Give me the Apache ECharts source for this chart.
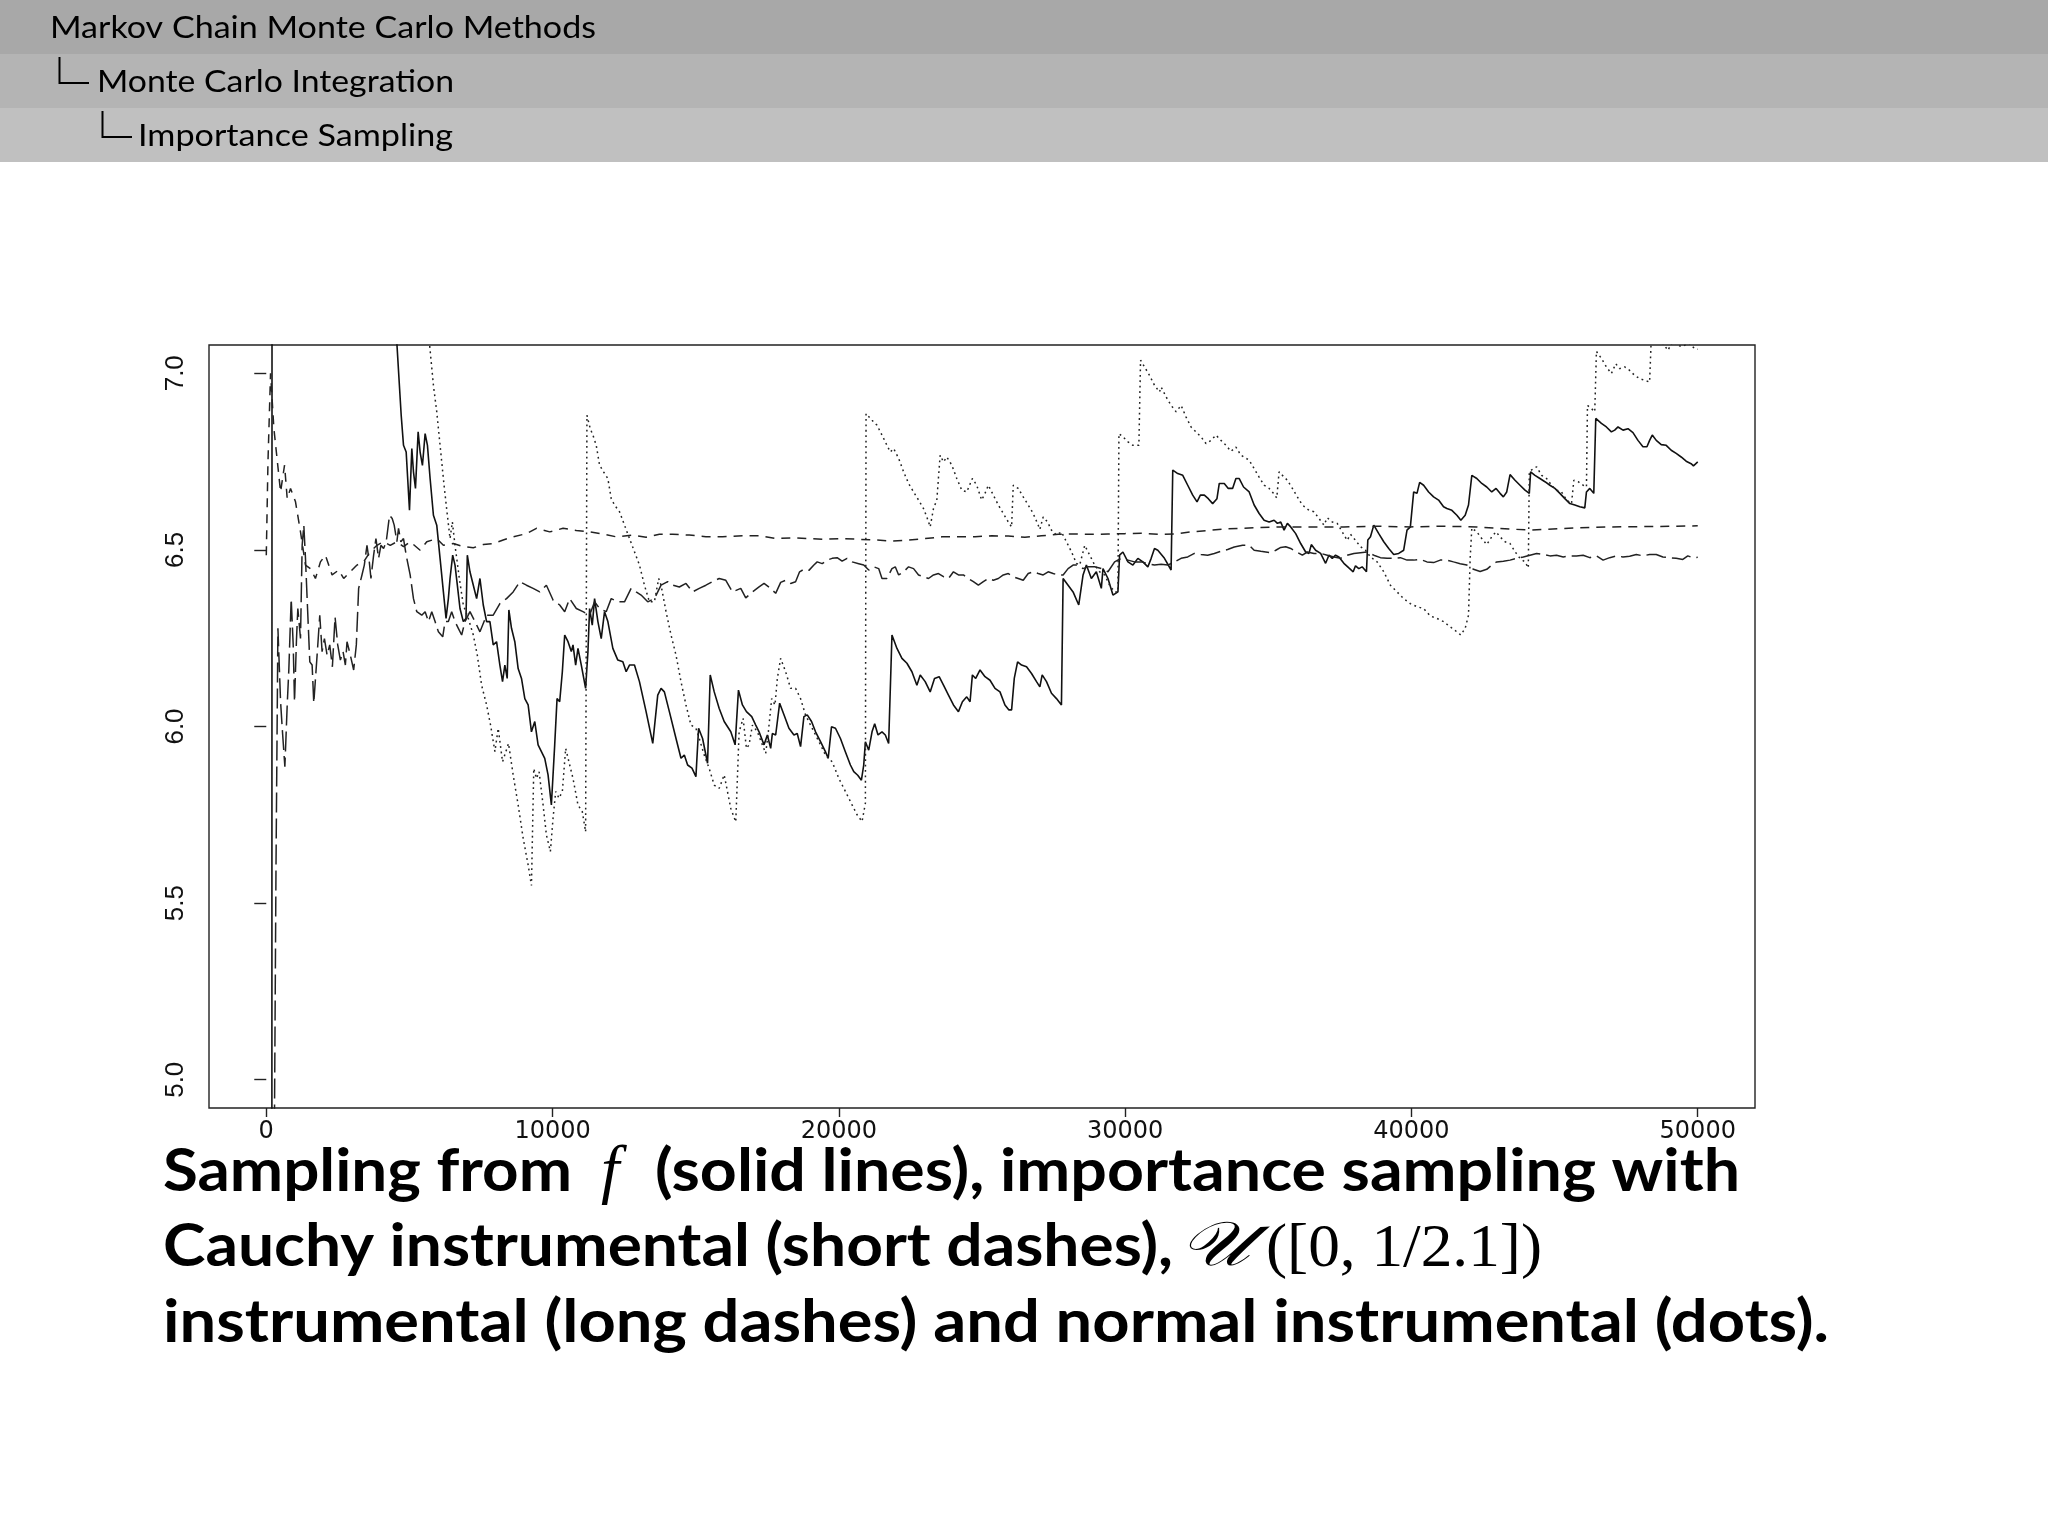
<!DOCTYPE html>
<html><head><meta charset="utf-8">
<script src="https://cdn.jsdelivr.net/npm/echarts@6/dist/echarts.min.js"></script>
<style>html,body{margin:0;padding:0;background:#fff}#c{width:2048px;height:1536px}</style>
</head><body><div id="c"></div>
<script>
// ---------- texts ----------
const headerLines = ['Markov Chain Monte Carlo Methods', 'Monte Carlo Integration', 'Importance Sampling'];
const captionLine1 = ['Sampling from', 'f', '(solid lines), importance sampling with'];
const captionLine2 = ['Cauchy instrumental (short dashes),', '\u{1D4B0}', '([0, 1/2.1])'];
const captionLine3 = ['instrumental (long dashes) and normal instrumental (dots).'];

// ---------- axes ----------
const xTickValues = [0, 10000, 20000, 30000, 40000, 50000];
const xTickLabels = ['0', '10000', '20000', '30000', '40000', '50000'];
const yTickValues = [5.0, 5.5, 6.0, 6.5, 7.0];
const yTickLabels = ['5.0', '5.5', '6.0', '6.5', '7.0'];

// ---------- series (iteration, running estimate) ----------
const solidF = [[1,3.0],[195,4.2],[205,9.2],[1000,8.3],[2000,7.8],[3000,7.5],[4000,7.28],[4450,7.14],
[4562,7.085],[4713,6.881],[4794,6.796],[4887,6.777],[5003,6.612],[5084,6.787],[5142,6.721],[5212,6.674],[5305,6.834],[5374,6.777],[5455,6.739],[5549,6.829],[5630,6.796],[5723,6.702],[5839,6.598],[5955,6.570],[6071,6.476],[6187,6.381],[6280,6.306],[6361,6.362],[6419,6.419],[6512,6.485],[6593,6.457],[6674,6.400],[6767,6.334],[6883,6.297],[6976,6.306],[7023,6.485],[7115,6.438],[7232,6.400],[7348,6.362],[7464,6.419],[7580,6.344],[7696,6.297],[7812,6.297],[7928,6.231],[8044,6.240],[8160,6.174],[8253,6.127],[8334,6.174],[8416,6.136],[8474,6.330],[8566,6.278],[8682,6.240],[8798,6.164],[8915,6.136],[9031,6.079],[9147,6.061],[9263,5.985],[9379,6.014],[9495,5.948],[9611,5.929],[9727,5.910],[9843,5.863],[9959,5.778],[10075,5.948],[10157,6.079],[10249,6.070],[10342,6.155],[10424,6.259],[10540,6.240],[10656,6.212],[10714,6.231],[10807,6.174],[10888,6.221],[11004,6.174],[11155,6.108],[11236,6.212],[11294,6.334],[11387,6.287],[11468,6.362],[11584,6.297],[11700,6.249],[11816,6.325],[11932,6.297],[12106,6.221],[12280,6.188],[12455,6.183],[12571,6.155],[12687,6.174],[12861,6.174],[13035,6.127],[13267,6.042],[13500,5.952],[13674,6.089],[13790,6.108],[13906,6.098],[14080,6.042],[14312,5.966],[14486,5.910],[14602,5.919],[14718,5.891],[14869,5.882],[15008,5.858],[15101,5.995],[15240,5.966],[15414,5.896],[15507,6.146],[15647,6.098],[15821,6.051],[15995,6.014],
[16226,5.985],[16377,5.948],[16493,6.103],[16632,6.061],[16772,6.042],[16957,6.028],[17097,6.004],[17213,5.985],[17387,5.948],[17503,5.976],[17619,5.938],[17677,5.980],[17793,5.976],[17932,6.066],[18083,6.033],[18257,5.995],[18431,5.976],[18547,5.980],[18663,5.943],[18779,6.028],[18896,6.033],[19046,6.014],[19186,5.985],[19360,5.957],[19534,5.928],[19627,5.910],[19743,5.999],[19882,5.995],[20056,5.966],[20230,5.928],[20404,5.891],[20521,5.872],[20660,5.862],[20788,5.848],[20869,5.891],[20927,5.957],[21043,5.933],[21159,5.985],[21252,6.008],[21368,5.976],[21507,5.985],[21623,5.976],[21739,5.952],[21855,6.259],[22030,6.221],[22204,6.193],[22378,6.179],[22552,6.155],[22726,6.117],[22842,6.146],[23016,6.127],[23190,6.098],[23341,6.136],[23504,6.141],[23655,6.117],[23829,6.089],[24003,6.061],[24177,6.042],[24316,6.070],[24467,6.084],[24583,6.070],[24664,6.146],[24780,6.136],[24931,6.160],[25105,6.141],[25280,6.131],[25454,6.108],[25628,6.098],[25802,6.061],[25941,6.047],[26034,6.047],[26127,6.136],[26243,6.183],[26382,6.174],[26556,6.169],[26730,6.150],[26904,6.127],[27021,6.112],[27102,6.146],[27253,6.127],[27427,6.094],[27601,6.079],[27775,6.061],[27833,6.419],[28007,6.400],[28181,6.381],[28379,6.344],[28530,6.429],[28646,6.457],[28820,6.419],[28994,6.438],[29168,6.391],[29226,6.447],[29400,6.419],[29574,6.372],[29748,6.381],[29806,6.485],[29922,6.494],[30097,6.466],[30271,6.457],[30445,6.476],[30619,6.466],[30793,6.452],[30909,6.476],[31025,6.504],[31141,6.499],[31373,6.476],[31605,6.443],[31663,6.726],[31837,6.716],[32012,6.711],[32186,6.683],[32360,6.655],[32511,6.636],[32627,6.655],[32766,6.655],[32905,6.645],[33056,6.631],[33207,6.645],[33288,6.688],[33462,6.688],[33602,6.674],[33753,6.674],[33869,6.702],[33985,6.702],[34136,6.678],
[34332,6.664],[34506,6.627],[34680,6.603],[34854,6.584],[35029,6.579],[35203,6.584],[35319,6.575],[35435,6.579],[35551,6.556],[35667,6.575],[35783,6.565],[35957,6.546],[36131,6.518],[36305,6.494],[36421,6.490],[36503,6.515],[36653,6.499],[36828,6.490],[37002,6.462],[37118,6.485],[37234,6.476],[37350,6.485],[37466,6.480],[37640,6.462],[37814,6.449],[37965,6.438],[38046,6.455],[38162,6.447],[38278,6.452],[38429,6.438],[38476,6.528],[38569,6.537],[38685,6.570],[38859,6.546],[39033,6.523],[39207,6.504],[39381,6.487],[39555,6.490],[39729,6.499],[39845,6.556],[39962,6.565],[40078,6.664],[40194,6.660],[40287,6.691],[40426,6.683],[40600,6.664],[40774,6.650],[40948,6.641],[41122,6.622],[41238,6.617],[41412,6.612],[41587,6.598],[41726,6.584],[41877,6.598],[41993,6.627],[42109,6.711],[42283,6.702],[42457,6.688],[42631,6.678],[42805,6.664],[42956,6.674],[43095,6.660],[43211,6.650],[43328,6.664],[43444,6.713],[43618,6.697],[43792,6.683],[43966,6.669],[44117,6.660],[44163,6.721],[44314,6.711],[44488,6.702],[44662,6.693],[44836,6.683],[45011,6.674],[45185,6.660],[45359,6.645],[45533,6.631],[45707,6.627],[45881,6.622],[46055,6.619],[46113,6.664],[46229,6.674],[46369,6.660],[46438,6.872],[46635,6.858],[46809,6.848],[46984,6.834],[47100,6.839],[47216,6.848],[47390,6.839],[47564,6.843],[47738,6.832],[47912,6.810],[48086,6.792],[48226,6.792],[48319,6.810],[48412,6.825],[48551,6.810],[48725,6.798],[48899,6.796],[49073,6.782],[49247,6.773],[49421,6.763],[49595,6.751],[49769,6.744],[49850,6.738],[50000,6.749]];

const cauchyIS = [[1,6.485],[60,6.75],[150,7.00],[267,6.843],[500,6.664],[639,6.740],[732,6.645],[848,6.674],[1022,6.636],[1196,6.551],[1370,6.457],[1544,6.447],[1718,6.419],[1892,6.466],[2066,6.485],[2299,6.429],[2531,6.443],[2705,6.419],[2937,6.438],[3169,6.457],[3401,6.466],[3633,6.495],[3866,6.513],[4098,6.523],[4330,6.513],[4562,6.523],[4794,6.509],[5026,6.523],[5374,6.499],[5607,6.523],[5955,6.532],[6187,6.513],[6535,6.518],[6883,6.509],[7232,6.506],[7580,6.515],[7928,6.518],[8276,6.528],[8624,6.537],[9089,6.546],[9437,6.561],[9901,6.551],[10366,6.561],[10830,6.555],[11294,6.551],[11758,6.545],[12223,6.537],[12803,6.542],[13267,6.536],[13732,6.544],[14196,6.544],[14776,6.542],[15357,6.537],[15937,6.537],[16632,6.540],[17213,6.540],[17793,6.532],[18373,6.534],[18954,6.532],[19534,6.530],[20114,6.532],[20695,6.530],[21275,6.528],[21855,6.525],[22436,6.528],[23016,6.532],[23597,6.537],[24177,6.537],[24757,6.537],[25338,6.540],[25918,6.539],[26498,6.536],[27079,6.540],[27659,6.544],[28239,6.545],[28820,6.544],[29400,6.545],[29980,6.546],[30561,6.547],[31141,6.544],[31721,6.545],[32302,6.551],[32882,6.555],[33462,6.559],[34043,6.561],[35319,6.565],[36479,6.565],[37640,6.565],[38801,6.567],[39961,6.565],[41122,6.567],[42283,6.565],[43444,6.559],[44140,6.556],[44604,6.558],[45765,6.562],[46926,6.565],[48086,6.566],[49247,6.567],[50000,6.568]];

const uniformIS = [[280,4.80],[340,5.60],[407,6.278],[500,6.070],[558,5.995],[650,5.886],[732,6.061],[790,6.164],[871,6.362],[941,6.231],[987,6.070],[1057,6.249],[1103,6.334],[1196,6.249],[1254,6.513],[1312,6.570],[1370,6.476],[1428,6.362],[1521,6.183],[1602,6.174],[1660,6.066],[1776,6.202],[1869,6.315],[1950,6.212],[2032,6.249],[2125,6.202],[2217,6.231],[2310,6.169],[2403,6.310],[2496,6.231],[2589,6.188],[2682,6.212],[2763,6.174],[2821,6.240],[2937,6.202],[3053,6.160],[3146,6.231],[3227,6.391],[3343,6.429],[3425,6.457],[3518,6.513],[3599,6.466],[3657,6.419],[3750,6.485],[3831,6.532],[3924,6.476],[4005,6.513],[4098,6.504],[4190,6.523],[4306,6.598],[4399,6.589],[4469,6.570],[4562,6.523],[4620,6.561],[4701,6.523],[4794,6.532],[4887,6.485],[5026,6.429],[5142,6.362],[5258,6.325],[5432,6.315],[5549,6.325],[5665,6.297],[5781,6.325],[5897,6.297],[6013,6.268],[6164,6.254],[6245,6.297],[6361,6.297],[6477,6.325],[6593,6.297],[6709,6.278],[6825,6.259],[6941,6.297],[7115,6.325],[7290,6.297],[7464,6.268],[7696,6.315],[7928,6.315],[8160,6.348],[8392,6.362],[8624,6.381],[8857,6.410],[9089,6.400],[9321,6.391],[9553,6.381],[9785,6.400],[10017,6.358],[10249,6.344],[10424,6.325],[10598,6.362],[10830,6.334],[11062,6.325],[11294,6.315],[11468,6.353],[11642,6.334],[11874,6.325],[12049,6.362],[12281,6.353],[12513,6.353],[12745,6.391],[12919,6.381],[13093,6.372],[13325,6.353],[13557,6.362],[13790,6.400],[14022,6.410],[14196,6.400],[14428,6.395],[14660,6.405],[14892,6.381],[15124,6.391],[15357,6.400],[15589,6.410],[15821,6.419],
[16052,6.414],[16284,6.381],[16574,6.391],[16748,6.364],[16981,6.381],[17213,6.395],[17387,6.405],[17619,6.391],[17793,6.377],[17968,6.408],[18141,6.414],[18315,6.405],[18489,6.410],[18629,6.438],[18780,6.445],[18954,6.442],[19128,6.457],[19244,6.466],[19418,6.461],[19592,6.471],[19766,6.476],[19940,6.478],[20114,6.468],[20288,6.476],[20463,6.466],[20695,6.461],[20869,6.457],[21043,6.443],[21217,6.452],[21391,6.447],[21507,6.419],[21681,6.419],[21855,6.447],[21971,6.452],[22088,6.429],[22262,6.438],[22436,6.452],[22610,6.447],[22784,6.429],[22958,6.424],[23132,6.419],[23306,6.429],[23480,6.433],[23655,6.424],[23829,6.419],[24003,6.438],[24177,6.429],[24351,6.429],[24525,6.419],[24699,6.410],[24873,6.400],[25047,6.410],[25221,6.419],[25396,6.414],[25570,6.419],[25744,6.429],[25918,6.433],[26092,6.424],[26266,6.419],[26440,6.414],[26614,6.433],[26788,6.438],[26963,6.433],[27137,6.429],[27311,6.438],[27485,6.433],[27659,6.429],[27833,6.429],[28007,6.447],[28181,6.457],[28355,6.457],[28530,6.447],[28704,6.452],[28936,6.452],[29168,6.447],[29400,6.438],[29632,6.466],[29864,6.476],[30097,6.471],[30329,6.466],[30561,6.466],[30793,6.461],[31025,6.457],[31257,6.459],[31489,6.457],[31721,6.466],[31954,6.476],[32186,6.480],[32418,6.490],[32650,6.487],[32882,6.485],[33114,6.490],[33346,6.496],[33579,6.501],[33811,6.508],[34101,6.513],
[34332,6.513],[34506,6.499],[34738,6.496],[34912,6.494],[35087,6.492],[35261,6.499],[35435,6.507],[35609,6.509],[35783,6.504],[35957,6.496],[36190,6.485],[36363,6.494],[36595,6.490],[36828,6.490],[37060,6.485],[37292,6.480],[37524,6.476],[37756,6.485],[37988,6.490],[38220,6.492],[38453,6.494],[38685,6.485],[38917,6.478],[39149,6.476],[39381,6.476],[39613,6.478],[39845,6.471],[40078,6.471],[40310,6.473],[40542,6.466],[40774,6.464],[41006,6.471],[41238,6.471],[41470,6.466],[41703,6.461],[41935,6.457],[42167,6.445],[42399,6.439],[42631,6.445],[42805,6.457],[42979,6.466],[43211,6.468],[43444,6.471],[43676,6.476],[43908,6.480],[44140,6.485],[44372,6.490],[44604,6.487],[44837,6.483],[45069,6.485],[45301,6.480],[45533,6.483],[45765,6.483],[45997,6.485],[46229,6.478],[46461,6.483],[46694,6.471],[46926,6.478],[47158,6.483],[47390,6.480],[47622,6.482],[47854,6.487],[48086,6.483],[48319,6.487],[48551,6.487],[48783,6.480],[49015,6.478],[49247,6.476],[49479,6.473],[49653,6.483],[49827,6.478],[50000,6.479]];

const normalIS = [[1,8.8],[2000,8.0],[4000,7.5],[5600,7.15],[5700,7.085],[5839,6.966],[5955,6.891],[6071,6.796],[6210,6.683],[6326,6.598],[6419,6.532],[6500,6.579],[6593,6.513],[6744,6.419],[6883,6.344],[7058,6.306],[7232,6.259],[7371,6.202],[7522,6.117],[7696,6.061],[7835,6.004],[7986,5.929],[8102,5.995],[8253,5.900],[8369,5.929],[8462,5.952],[8624,5.863],[8798,5.778],[8973,5.684],[9147,5.608],[9263,5.550],[9344,5.881],[9437,5.853],[9530,5.872],[9669,5.778],[9785,5.693],[9924,5.646],[10017,5.740],[10110,5.816],[10226,5.797],[10342,5.816],[10458,5.938],[10598,5.891],[10714,5.853],[10888,5.778],[11039,5.759],[11155,5.702],[11201,6.881],[11317,6.843],[11410,6.825],[11526,6.796],[11642,6.740],[11781,6.721],[11932,6.702],[12049,6.645],[12165,6.627],[12339,6.608],[12513,6.570],[12687,6.532],[12861,6.495],[13035,6.457],[13209,6.400],[13383,6.353],[13557,6.353],[13708,6.419],[13790,6.400],[13964,6.325],[14138,6.259],[14312,6.202],[14486,6.127],[14660,6.061],[14834,6.004],[15008,5.995],[15124,5.966],[15298,5.919],[15472,5.881],[15647,5.834],[15821,5.825],[15995,5.863],[16226,5.768],[16400,5.730],[16516,5.985],[16656,6.023],[16772,5.938],[16864,5.948],[16981,6.004],[17155,5.985],[17329,5.948],[17445,5.924],[17538,5.985],[17654,6.079],[17770,6.061],[17851,6.136],[17967,6.193],[18141,6.155],[18315,6.108],[18489,6.108],[18663,6.079],[18838,6.032],[19012,6.004],[19186,5.976],[19360,5.948],[19534,5.919],[19766,5.900],[20000,5.853],[20230,5.816],[20463,5.778],[20637,5.750],[20811,5.731],[20927,5.783],[20950,6.886],[21159,6.867],[21333,6.853],[21507,6.825],[21681,6.796],[21797,6.777],[21913,6.787],[22088,6.759],[22262,6.721],[22436,6.688],[22610,6.664],[22784,6.641],[22958,6.617],[23074,6.593],[23190,6.565],[23306,6.617],[23422,6.641],[23538,6.768],[23655,6.749],[23771,6.763],[23945,6.740],[24119,6.702],[24293,6.669],[24467,6.664],[24664,6.702],[24815,6.683],[24989,6.641],[25105,6.660],[25221,6.683],[25396,6.655],[25570,6.627],[25744,6.603],[25918,6.579],[26034,6.565],[26092,6.683],[26266,6.674],[26440,6.650],[26614,6.627],[26788,6.603],[26963,6.570],[27021,6.558],[27137,6.593],[27288,6.579],[27427,6.556],[27601,6.542],[27775,6.551],[27949,6.523],[28123,6.495],[28297,6.462],[28413,6.457],[28588,6.513],[28762,6.485],[28936,6.457],[29110,6.438],[29284,6.429],[29458,6.400],[29632,6.381],[29748,6.381],[29783,6.829],[29922,6.820],[30097,6.806],[30271,6.796],[30480,6.796],[30538,7.037],[30677,7.018],[30851,6.994],[31025,6.966],[31199,6.947],[31257,6.961],[31431,6.933],[31605,6.909],[31779,6.891],[31954,6.909],[32128,6.876],[32302,6.848],[32476,6.834],[32650,6.820],[32824,6.801],[32998,6.810],[33172,6.825],[33346,6.810],[33521,6.796],[33695,6.779],[33869,6.791],[34043,6.768],[34332,6.754],[34506,6.730],[34680,6.706],[34854,6.683],[35029,6.674],[35179,6.660],[35296,6.647],[35377,6.721],[35493,6.711],[35667,6.697],[35841,6.674],[36015,6.650],[36190,6.627],[36421,6.612],[36595,6.608],[36770,6.589],[36944,6.570],[37060,6.591],[37234,6.579],[37408,6.575],[37582,6.551],[37756,6.527],[37872,6.544],[38046,6.527],[38220,6.509],[38395,6.499],[38569,6.480],[38801,6.466],[39033,6.438],[39265,6.400],[39497,6.381],[39729,6.362],[39962,6.348],[40194,6.339],[40426,6.334],[40658,6.313],[40890,6.306],[41122,6.297],[41355,6.282],[41587,6.268],[41726,6.259],[41877,6.278],[41993,6.315],[42051,6.476],[42109,6.562],[42283,6.551],[42457,6.532],[42631,6.515],[42805,6.537],[42956,6.551],[43095,6.537],[43270,6.523],[43444,6.518],[43618,6.495],[43792,6.476],[43966,6.466],[44082,6.449],[44117,6.721],[44256,6.730],[44372,6.735],[44546,6.711],[44720,6.702],[44895,6.683],[45069,6.669],[45243,6.664],[45417,6.641],[45591,6.631],[45672,6.697],[45823,6.693],[45997,6.683],[46113,6.678],[46148,6.909],[46287,6.900],[46403,6.891],[46461,7.062],[46635,7.042],[46809,7.018],[46984,6.999],[47135,7.027],[47274,7.013],[47448,7.018],[47622,7.008],[47796,6.994],[47970,6.985],[48145,6.980],[48319,6.975],[48377,7.100],[48783,7.085],[48957,7.065],[49131,7.090],[49421,7.075],[49711,7.085],[49885,7.070],[50000,7.068]];

// ---------- helpers ----------
const mctx = document.createElement('canvas').getContext('2d');
function textWidth(font, s) { mctx.font = font; return mctx.measureText(s).width; }
function fitText(str, font, x0, x1, cy) {
  const w = textWidth(font, str);
  return { type: 'text', x: x0, y: cy, scaleX: (x1 - x0) / w, silent: true,
    style: { text: str, font: font, fill: '#000', align: 'left', verticalAlign: 'middle' } };
}
function plainText(str, font, x0, cy) {
  return { type: 'text', x: x0, y: cy, silent: true,
    style: { text: str, font: font, fill: '#000', align: 'left', verticalAlign: 'middle' } };
}
function lookup(values, labels, v) {
  for (let i = 0; i < values.length; i++) if (Math.abs(values[i] - v) < 1e-9) return labels[i];
  return '';
}

const HF = '31px Lato';
const CB = 'bold 60px Lato';
const CI = 'italic 66px "Liberation Serif"';
const CM = '62px "Liberation Serif"';
const CC = 'italic 62px "DejaVu Serif"';

const graphics = [
  { type: 'rect', shape: { x: 0, y: 0, width: 2048, height: 54 }, style: { fill: '#a8a8a8' }, silent: true, z: 0 },
  { type: 'rect', shape: { x: 0, y: 54, width: 2048, height: 54 }, style: { fill: '#b4b4b4' }, silent: true, z: 0 },
  { type: 'rect', shape: { x: 0, y: 108, width: 2048, height: 54 }, style: { fill: '#c0c0c0' }, silent: true, z: 0 },
  { type: 'polyline', shape: { points: [[59.5, 57], [59.5, 83], [89, 83]] }, style: { stroke: '#000', lineWidth: 2, fill: null }, silent: true, z: 2 },
  { type: 'polyline', shape: { points: [[102.5, 111], [102.5, 137], [132, 137]] }, style: { stroke: '#000', lineWidth: 2, fill: null }, silent: true, z: 2 },
  fitText(headerLines[0], HF, 50, 596, 27.5),
  fitText(headerLines[1], HF, 97, 454, 82),
  fitText(headerLines[2], HF, 138, 453, 136),
  fitText(captionLine1[0], CB, 163, 572, 1172),
  plainText(captionLine1[1], CI, 601, 1174),
  fitText(captionLine1[2], CB, 655, 1740, 1172),
  fitText(captionLine2[0], CB, 163, 1173, 1247),
  fitText(captionLine2[1], CC, 1179, 1250, 1249),
  fitText(captionLine2[2], CM, 1266, 1542, 1250),
  fitText(captionLine3[0], CB, 163, 1829, 1323)
];

const chart = echarts.init(document.getElementById('c'), null, { width: 2048, height: 1536 });
const lineBase = { type: 'line', showSymbol: false, symbol: 'none', clip: true, silent: true, animation: false };
chart.setOption({
  backgroundColor: '#ffffff',
  animation: false,
  grid: { left: 209, right: 293, top: 345, bottom: 428, show: true, borderColor: '#222', borderWidth: 1.4, backgroundColor: 'rgba(0,0,0,0)' },
  xAxis: {
    type: 'value', min: -2000, max: 52000,
    axisLine: { show: false }, splitLine: { show: false },
    axisTick: { show: true, customValues: xTickValues, length: 9, lineStyle: { color: '#222', width: 1.4 } },
    axisLabel: { customValues: xTickValues, formatter: v => lookup(xTickValues, xTickLabels, v),
      fontFamily: 'DejaVu Sans', fontSize: 24, color: '#111', margin: 12 }
  },
  yAxis: {
    type: 'value', min: 4.92, max: 7.08,
    axisLine: { show: false }, splitLine: { show: false },
    axisTick: { show: true, customValues: yTickValues, length: 12, lineStyle: { color: '#222', width: 1.4 } },
    axisLabel: { customValues: yTickValues, rotate: 90, formatter: v => lookup(yTickValues, yTickLabels, v),
      fontFamily: '"Liberation Sans Narrow", "Liberation Sans", sans-serif', fontSize: 26, color: '#111', margin: 20 }
  },
  graphic: graphics,
  series: [
    Object.assign({}, lineBase, { name: 'f', data: solidF, lineStyle: { color: '#111', width: 1.6, type: 'solid' } }),
    Object.assign({}, lineBase, { name: 'Cauchy', data: cauchyIS, lineStyle: { color: '#222', width: 1.5, type: [9, 7] } }),
    Object.assign({}, lineBase, { name: 'Uniform', data: uniformIS, lineStyle: { color: '#222', width: 1.5, type: [20, 6] } }),
    Object.assign({}, lineBase, { name: 'Normal', data: normalIS, lineStyle: { color: '#222', width: 1.5, type: [1.8, 3.6] } })
  ]
});
</script>
</body></html>
